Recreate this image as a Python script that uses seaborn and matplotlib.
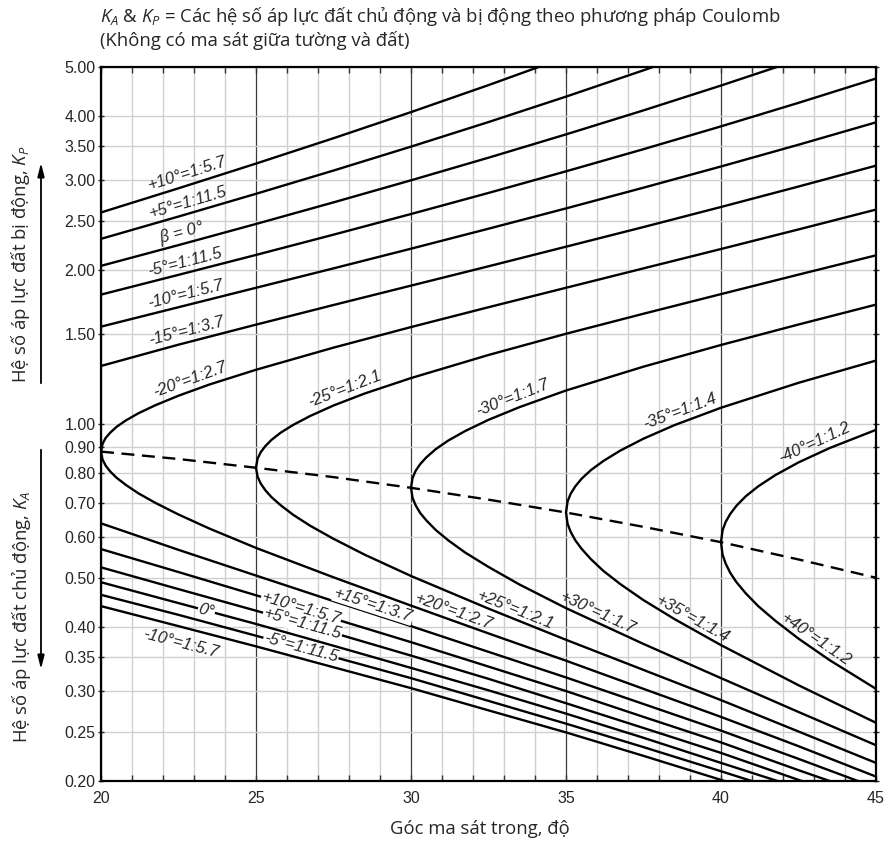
import numpy as np
import pandas as pd
import seaborn as sns
import matplotlib
matplotlib.use("Agg")
import matplotlib.pyplot as plt
from matplotlib.ticker import MultipleLocator, NullLocator

# friction angle (deg) for the straight lines
phi_grid = [20, 22.5, 25, 27.5, 30, 32.5, 35, 37.5, 40, 42.5, 45]

# passive Kp, backfill slope beta
kp_p10 = [2.595, 2.894, 3.235, 3.627, 4.080, 4.608, 5.228, 5.962, 6.841, 7.903, 9.204]
kp_p5 = [2.304, 2.548, 2.823, 3.135, 3.492, 3.901, 4.375, 4.926, 5.572, 6.336, 7.250]
kp_0 = [2.040, 2.240, 2.464, 2.716, 3.000, 3.322, 3.690, 4.112, 4.599, 5.165, 5.828]
kp_m5 = [1.792, 1.959, 2.143, 2.348, 2.577, 2.834, 3.124, 3.452, 3.826, 4.254, 4.747]
kp_m10 = [1.551, 1.693, 1.848, 2.017, 2.204, 2.412, 2.643, 2.902, 3.193, 3.522, 3.896]
kp_m15 = [1.299, 1.430, 1.565, 1.710, 1.866, 2.036, 2.224, 2.430, 2.660, 2.917, 3.205]

# active Ka
ka_m10 = [0.440, 0.402, 0.367, 0.334, 0.304, 0.275, 0.249, 0.224, 0.201, 0.180, 0.160]
ka_m5 = [0.463, 0.423, 0.385, 0.350, 0.318, 0.287, 0.259, 0.233, 0.209, 0.187, 0.166]
ka_0 = [0.490, 0.446, 0.406, 0.368, 0.333, 0.301, 0.271, 0.243, 0.217, 0.194, 0.172]
ka_p5 = [0.524, 0.475, 0.431, 0.390, 0.352, 0.317, 0.284, 0.254, 0.227, 0.201, 0.178]
ka_p10 = [0.569, 0.513, 0.462, 0.416, 0.374, 0.335, 0.300, 0.267, 0.238, 0.210, 0.186]
ka_p15 = [0.639, 0.567, 0.505, 0.450, 0.402, 0.358, 0.319, 0.283, 0.251, 0.221, 0.194]

# curves that turn back at phi = |beta|: phi = |beta| + offset
c_offsets = [0, 0.05, 0.15, 0.3, 0.5, 0.8, 1.2, 1.75, 2.5, 3.5, 5, 7.5, 10, 12.5, 15, 17.5, 20, 22.5, 25]
cp_20 = [0.883, 0.915, 0.939, 0.962, 0.987, 1.016, 1.049, 1.088, 1.136, 1.195, 1.277, 1.411, 1.548, 1.693, 1.848, 2.017, 2.201, 2.404, 2.629]
ca_20 = [0.883, 0.852, 0.829, 0.807, 0.785, 0.760, 0.732, 0.701, 0.665, 0.624, 0.572, 0.501, 0.441, 0.389, 0.344, 0.303, 0.267, 0.234, 0.204]
cp_25 = [0.821, 0.855, 0.880, 0.905, 0.931, 0.962, 0.996, 1.037, 1.087, 1.147, 1.230, 1.365, 1.502, 1.644, 1.796, 1.961, 2.139]
ca_25 = [0.821, 0.789, 0.765, 0.742, 0.719, 0.693, 0.664, 0.632, 0.596, 0.555, 0.504, 0.435, 0.378, 0.330, 0.288, 0.250, 0.217]
cp_30 = [0.750, 0.784, 0.810, 0.835, 0.861, 0.893, 0.928, 0.969, 1.019, 1.079, 1.163, 1.295, 1.428, 1.566, 1.713]
ca_30 = [0.750, 0.717, 0.693, 0.669, 0.647, 0.620, 0.592, 0.560, 0.525, 0.485, 0.436, 0.371, 0.318, 0.273, 0.235]
cp_35 = [0.671, 0.705, 0.730, 0.755, 0.781, 0.812, 0.846, 0.887, 0.936, 0.995, 1.076, 1.204, 1.331]
ca_35 = [0.671, 0.638, 0.615, 0.592, 0.570, 0.544, 0.516, 0.486, 0.452, 0.415, 0.369, 0.308, 0.260]
cp_40 = [0.587, 0.619, 0.643, 0.667, 0.692, 0.722, 0.755, 0.794, 0.841, 0.897, 0.974]
ca_40 = [0.587, 0.555, 0.533, 0.511, 0.490, 0.466, 0.440, 0.412, 0.380, 0.345, 0.303]

# dashed locus of turning points
k_turn = [0.883, 0.854, 0.821, 0.787, 0.750, 0.711, 0.671, 0.629, 0.587, 0.543, 0.500]

y_ticks = [0.20, 0.25, 0.30, 0.35, 0.40, 0.50, 0.60, 0.70, 0.80, 0.90, 1.00,
           1.50, 2.00, 2.50, 3.00, 3.50, 4.00, 5.00]
x_ticks = [20, 25, 30, 35, 40, 45]

sns.set_style("white")
plt.rcParams["font.family"] = ["Open Sans", "DejaVu Sans"]
plt.rcParams["mathtext.fontset"] = "custom"
plt.rcParams["mathtext.it"] = "Open Sans:italic"
plt.rcParams["mathtext.rm"] = "Open Sans"

# build long table
rows = []
straight = {"p+10": kp_p10, "p+5": kp_p5, "p0": kp_0, "p-5": kp_m5, "p-10": kp_m10, "p-15": kp_m15,
            "a-10": ka_m10, "a-5": ka_m5, "a0": ka_0, "a+5": ka_p5, "a+10": ka_p10, "a+15": ka_p15}
for name, ks in straight.items():
    for x, k in zip(phi_grid, ks):
        rows.append((name, x, k))
branches = {}
for b, kp_b, ka_b in [(20, cp_20, ca_20), (25, cp_25, ca_25), (30, cp_30, ca_30),
                      (35, cp_35, ca_35), (40, cp_40, ca_40)]:
    ph = [b + o for o in c_offsets[:len(kp_b)]]
    branches["cp%d" % b] = (ph, kp_b)
    branches["ca%d" % b] = (ph, ka_b)
    path_x = ph[::-1] + ph[1:]
    path_y = kp_b[::-1] + ka_b[1:]
    for x, k in zip(path_x, path_y):
        rows.append(("c%d" % b, x, k))
df = pd.DataFrame(rows, columns=["curve", "phi", "K"])

fig = plt.figure(figsize=(8.95, 8.43), dpi=100)
ax = fig.add_axes([101 / 895, 62 / 843, 775 / 895, 714 / 843])

sns.lineplot(data=df, x="phi", y="K", units="curve", estimator=None, sort=False,
             color="black", lw=1.7, ax=ax)
sns.lineplot(x=phi_grid, y=k_turn, color="black", lw=1.7, linestyle=(0, (5.5, 3.2)), ax=ax)

ax.set_yscale("log")
ax.set_xlim(20, 45)
ax.set_ylim(0.2, 5.0)
ax.set_xlabel("")
ax.set_ylabel("")
ax.set_xticks(x_ticks, labels=[str(t) for t in x_ticks], fontfamily="Liberation Sans", fontsize=11.5)
ax.xaxis.set_minor_locator(MultipleLocator(1))
ax.set_yticks(y_ticks, labels=["%.2f" % t for t in y_ticks], fontfamily="Liberation Sans", fontsize=11.5)
ax.yaxis.set_minor_locator(NullLocator())

ax.set_axisbelow(True)
ax.xaxis.grid(True, which="minor", color="#cfcfcf", lw=1.0)
ax.xaxis.grid(True, which="major", color="#3a3a3a", lw=0.9)
ax.yaxis.grid(True, which="major", color="#cfcfcf", lw=1.0)
for s in ax.spines.values():
    s.set_color("black")
    s.set_linewidth(1.6)
ax.tick_params(axis="x", which="both", direction="in", top=True, bottom=True, length=4,
               width=1, color="#333333", pad=7)
ax.tick_params(axis="y", which="major", direction="out", left=True, length=4, width=1, pad=2)
ax.tick_params(axis="y", which="major", right=True, direction="inout")


def label_on(text, xs, ys, x0, d, box=False):
    xs = np.asarray(xs, float)
    ly = np.log10(np.asarray(ys, float))
    y0 = 10 ** np.interp(x0, xs, ly)
    xa, xb = x0 - 0.3, x0 + 0.3
    pa = ax.transData.transform((xa, 10 ** np.interp(xa, xs, ly)))
    pb = ax.transData.transform((xb, 10 ** np.interp(xb, xs, ly)))
    a = np.degrees(np.arctan2(pb[1] - pa[1], pb[0] - pa[0]))
    off = (-np.sin(np.radians(a)) * d, np.cos(np.radians(a)) * d)
    kw = dict(boxstyle="square,pad=0.05", fc="white", ec="none") if box else None
    ax.annotate(text, xy=(x0, y0), xytext=off, textcoords="offset points",
                rotation=a, rotation_mode="anchor", ha="center", va="center",
                fontsize=12, fontfamily="Liberation Sans", style="italic", bbox=kw)


upper = [("+10°=1:5.7", kp_p10, 22.9), ("+5°=1:11.5", kp_p5, 22.9), (r"$\beta$ = 0°", kp_0, 22.7),
         ("-5°=1:11.5", kp_m5, 22.8), ("-10°=1:5.7", kp_m10, 22.8), ("-15°=1:3.7", kp_m15, 22.85)]
for t, ks, x0 in upper:
    label_on(t, phi_grid, ks, x0, 8)
for t, key, x0 in [("-20°=1:2.7", "cp20", 23.0), ("-25°=1:2.1", "cp25", 28.0),
                   ("-30°=1:1.7", "cp30", 33.4), ("-35°=1:1.4", "cp35", 38.8),
                   ("-40°=1:1.2", "cp40", 43.15)]:
    label_on(t, branches[key][0], branches[key][1], x0, 8)

label_on("-10°=1:5.7", phi_grid, ka_m10, 22.7, -11.5)
for t, ks, x0 in [("0°", ka_0, 23.4), ("+10°=1:5.7", ka_p10, 26.45),
                  ("+5°=1:11.5", ka_p5, 26.5), ("-5°=1:11.5", ka_m5, 26.45)]:
    label_on(t, phi_grid, ks, x0, 0, box=True)
label_on("+15°=1:3.7", phi_grid, ka_p15, 28.7, 6, box=True)
for t, key, x0 in [("+20°=1:2.7", "ca20", 31.3), ("+25°=1:2.1", "ca25", 33.25),
                   ("+30°=1:1.7", "ca30", 35.9), ("+35°=1:1.4", "ca35", 38.95),
                   ("+40°=1:1.2", "ca40", 42.9)]:
    label_on(t, branches[key][0], branches[key][1], x0, 6.5)

# titles and axis captions
fig.text(100 / 895, 1 - 22 / 843, r"$K_A$ & $K_P$ = Các hệ số áp lực đất chủ động và bị động theo phương pháp Coulomb",
         fontsize=13.3, va="baseline", ha="left")
fig.text(100 / 895, 1 - 46 / 843, "(Không có ma sát giữa tường và đất)",
         fontsize=13.3, va="baseline", ha="left")
fig.text(480 / 895, 1 - 829 / 843, "Góc ma sát trong, độ", fontsize=13.3, ha="center", va="center")
fig.text(21 / 895, 1 - 264 / 843, r"Hệ số áp lực đất bị động, $K_P$", fontsize=13.3,
         rotation=90, ha="center", va="center")
fig.text(21 / 895, 1 - 617 / 843, r"Hệ số áp lực đất chủ động, $K_A$", fontsize=13.3,
         rotation=90, ha="center", va="center")
ax.annotate("", xy=(41, 843 - 160), xytext=(41, 843 - 386), xycoords="figure pixels",
            textcoords="figure pixels", annotation_clip=False,
            arrowprops=dict(arrowstyle="-|>,head_width=0.2,head_length=0.8", color="black", lw=1.3))
ax.annotate("", xy=(41, 843 - 672), xytext=(41, 843 - 447), xycoords="figure pixels",
            textcoords="figure pixels", annotation_clip=False,
            arrowprops=dict(arrowstyle="-|>,head_width=0.2,head_length=0.8", color="black", lw=1.3))

fig.savefig("out.png", dpi=100)
